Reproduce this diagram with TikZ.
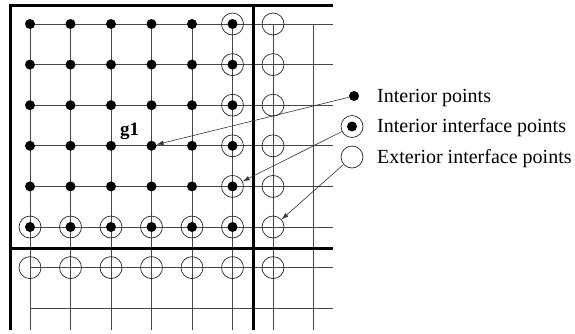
\documentclass[tikz,border=0pt]{standalone}
\usepackage{fontspec}
\setmainfont{Liberation Serif}
\usetikzlibrary{arrows.meta}
\begin{document}
\begin{tikzpicture}[x=1pt,y=-1pt,
  gridline/.style={draw=black!72, line width=0.8pt},
  wall/.style={draw=black, line width=3pt},
  inpt/.style={circle, fill=black, minimum size=10pt, inner sep=0pt},
  ifpt/.style={circle, draw=black!85, line width=0.7pt, minimum size=22pt, inner sep=0pt,
    path picture={\fill[black] (path picture bounding box.center) circle (5pt);}},
  expt/.style={circle, draw=black!85, line width=0.7pt, minimum size=22pt, inner sep=0pt},
  pointer/.style={draw=black!80, line width=0.6pt, -{Latex[length=7pt,width=4.5pt]}},
  legendtext/.style={anchor=base west, inner sep=0pt, font=\fontsize{20}{24}\selectfont}]
\useasboundingbox (0,0) rectangle (575,333);

% grid lines
\foreach \j in {0,...,7}
  \draw[gridline] (30,{24+40.6*\j}) -- (333,{24+40.6*\j});
\foreach \i in {0,...,7}
  \draw[gridline] ({30+40.5*\i},24) -- ({30+40.5*\i},330);

% subdomain boundaries
\draw[wall] (10,330) -- (10,5) -- (333,5);
\draw[wall] (253,5) -- (253,330);
\draw[wall] (10,248) -- (333,248);

% grid points
\foreach \j in {0,...,4} {
  \foreach \i in {0,...,4}
    \node[inpt] (p-\i-\j) at ({30+40.5*\i},{24+40.6*\j}) {};
  \node[ifpt] (p-5-\j) at ({30+40.5*5},{24+40.6*\j}) {};
  \node[expt] (p-6-\j) at ({30+40.5*6},{24+40.6*\j}) {};
}
\foreach \i in {0,...,5}
  \node[ifpt] (p-\i-5) at ({30+40.5*\i},{24+40.6*5}) {};
\node[expt] (p-6-5) at ({30+40.5*6},{24+40.6*5}) {};
\foreach \i in {0,...,6}
  \node[expt] (p-\i-6) at ({30+40.5*\i},{24+40.6*6}) {};

% subdomain label
\node[anchor=base, inner sep=0pt, font=\fontsize{19}{23}\selectfont\bfseries] (g1) at (129.5,135) {g1};

% legend
\node[inpt] (l-in) at (354,96) {};
\node[ifpt] (l-if) at (352,126.5) {};
\node[expt] (l-ex) at (352,157) {};
\node[legendtext] (t-in) at (377,102) {Interior points};
\node[legendtext] (t-if) at (377,132.5) {Interior interface points};
\node[legendtext] (t-ex) at (377,163) {Exterior interface points};

% pointers from legend symbols to sample grid points
\draw[pointer] (l-in) -- (p-3-3);
\draw[pointer] (l-if) -- (p-5-4);
\draw[pointer] (l-ex) -- (p-6-5);
\end{tikzpicture}
\end{document}
